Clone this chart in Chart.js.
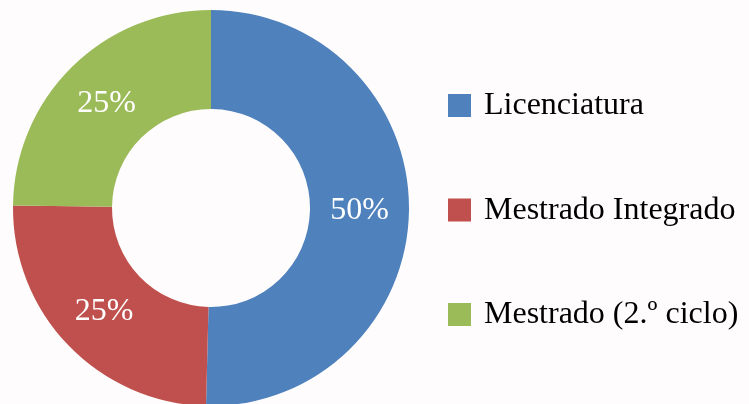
<!DOCTYPE html>
<html>
<head>
<meta charset="utf-8">
<script src="https://cdn.jsdelivr.net/npm/chart.js@4"></script>
<style>
  html, body { margin: 0; padding: 0; background: #fefcfc; }
  #wrap { width: 749px; height: 404px; overflow: hidden; }
  canvas { display: block; }
</style>
</head>
<body>
<div id="wrap"><canvas id="chart" width="749" height="406"></canvas></div>
<script>
// Ciclo de estudos – share of programmes
const LABELS = ['Licenciatura', 'Mestrado Integrado', 'Mestrado (2.º ciclo)'];
const VALUES = [50.4, 24.8, 24.8];
const COLORS = ['#4f81bd', '#c0504d', '#9bbb59'];

const FONT = '"Liberation Serif", "Times New Roman", serif';

// Percent labels drawn at each arc's centre point
const sliceLabels = {
  id: 'sliceLabels',
  afterDatasetsDraw(chart) {
    const ctx = chart.ctx;
    const meta = chart.getDatasetMeta(0);
    const total = VALUES.reduce((a, b) => a + b, 0);
    ctx.save();
    ctx.font = '32px ' + FONT;
    ctx.fillStyle = '#ffffff';
    ctx.textAlign = 'center';
    ctx.textBaseline = 'middle';
    meta.data.forEach((arc, i) => {
      const p = arc.tooltipPosition();
      const pct = Math.round(VALUES[i] / total * 100) + '%';
      ctx.fillText(pct, p.x, p.y + 1);
    });
    ctx.restore();
  },
};

// Legend on the right, drawn by hand so spacing matches the original
const sideLegend = {
  id: 'sideLegend',
  afterDraw(chart) {
    const ctx = chart.ctx;
    const boxX = 448, box = 23, textX = 484, firstY = 105.5, step = 104.5;
    ctx.save();
    ctx.font = '32px ' + FONT;
    ctx.textAlign = 'left';
    ctx.textBaseline = 'alphabetic';
    LABELS.forEach((label, i) => {
      const cy = firstY + i * step;
      ctx.fillStyle = COLORS[i];
      ctx.fillRect(boxX, cy - box / 2, box, box);
      ctx.fillStyle = '#000000';
      ctx.fillText(label, textX, cy + 8.5);
    });
    ctx.restore();
  },
};

new Chart(document.getElementById('chart'), {
  type: 'doughnut',
  data: {
    labels: LABELS,
    datasets: [{
      data: VALUES,
      backgroundColor: COLORS,
      borderWidth: 0,
    }],
  },
  options: {
    responsive: false,
    animation: false,
    cutout: '50%',
    layout: { padding: { top: 10, left: 13, right: 340, bottom: 0 } },
    plugins: {
      legend: { display: false },
      tooltip: { enabled: false },
    },
  },
  plugins: [sliceLabels, sideLegend],
});
</script>
</body>
</html>
